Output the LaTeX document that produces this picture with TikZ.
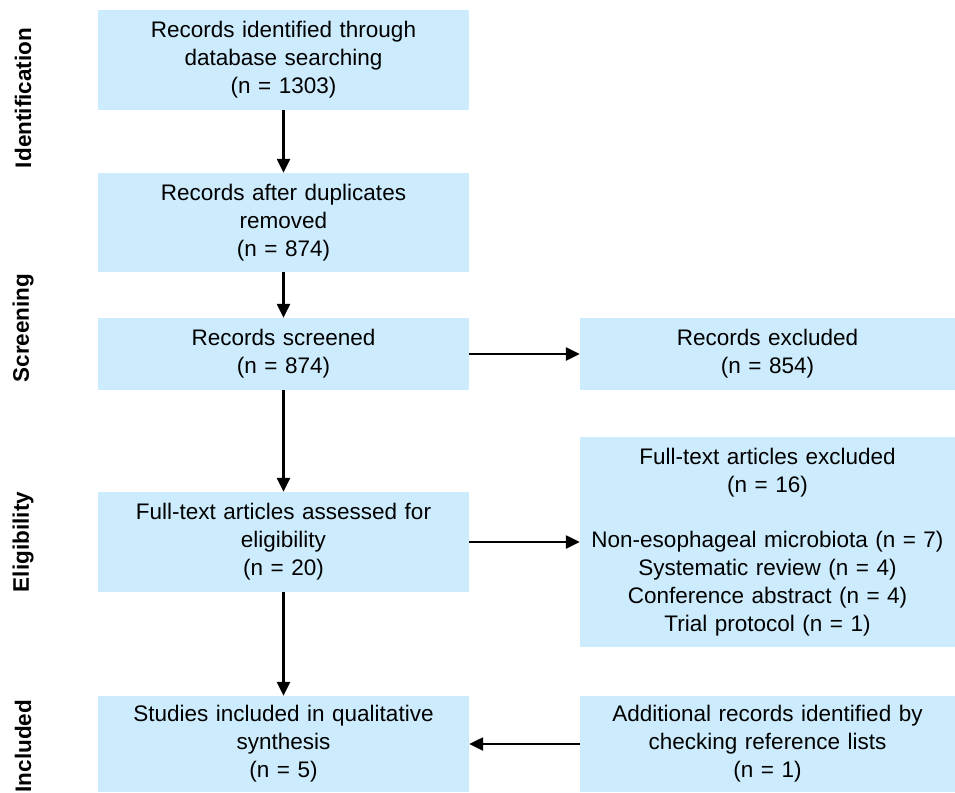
\documentclass[tikz,border=0pt]{standalone}
\usepackage{fontspec}
\setmainfont{Liberation Sans}
\usepackage{tikz}
\usetikzlibrary{arrows.meta}

\definecolor{boxblue}{RGB}{204,235,252}

\begin{document}
\begin{tikzpicture}[x=1pt,y=1pt,
    box/.style={fill=boxblue, inner sep=0pt, align=center,
        text width=365pt, minimum width=371pt,
        font=\fontsize{22.5}{28}\selectfont},
    rbox/.style={box, minimum width=375pt},
    phase/.style={rotate=90, inner sep=0pt,
        font=\bfseries\fontsize{22.5}{28}\selectfont},
    arr/.style={line width=2.4pt, -{Triangle[length=14pt,width=13pt]}}]
    \useasboundingbox (0,0) rectangle (955,-792);

    % phases
    \node[phase] (lident) at (23,-98) {Identification};
    \node[phase] (lscreen) at (23,-328) {Screening};
    \node[phase] (lelig) at (23,-542) {Eligibility};
    \node[phase] (lincl) at (23,-746) {Included};

    % left column
    \node[box, minimum height=100pt] (ident) at (283.5,-60)
        {Records identified through\\database searching\\(n = 1303)};
    \node[box, minimum height=99pt] (dupl) at (283.5,-222.5)
        {Records after duplicates\\removed\\(n = 874)};
    \node[box, minimum height=72pt] (screen) at (283.5,-354)
        {Records screened\\(n = 874)};
    \node[box, minimum height=100pt] (full) at (283.5,-542)
        {Full-text articles assessed for\\eligibility\\(n = 20)};
    \node[box, minimum height=96pt] (incl) at (283.5,-744)
        {Studies included in qualitative\\synthesis\\(n = 5)};

    % right column
    \node[rbox, minimum height=72pt] (recex) at (767.5,-354)
        {Records excluded\\(n = 854)};
    \node[rbox, minimum height=210pt] (fullex) at (767.5,-542)
        {Full-text articles excluded\\(n = 16)\\[27.5pt]
         Non-esophageal microbiota (n = 7)\\Systematic review (n = 4)\\
         Conference abstract (n = 4)\\Trial protocol (n = 1)};
    \node[rbox, minimum height=96pt] (addrec) at (767.5,-744)
        {Additional records identified by\\checking reference lists\\(n = 1)};

    \draw[arr] (ident) -- (dupl);
    \draw[arr] (dupl) -- (screen);
    \draw[arr] (screen) -- (full);
    \draw[arr] (full) -- (incl);
    \draw[arr] (screen) -- (recex);
    \draw[arr] (full) -- (fullex);
    \draw[arr] (addrec) -- (incl);
\end{tikzpicture}
\end{document}
